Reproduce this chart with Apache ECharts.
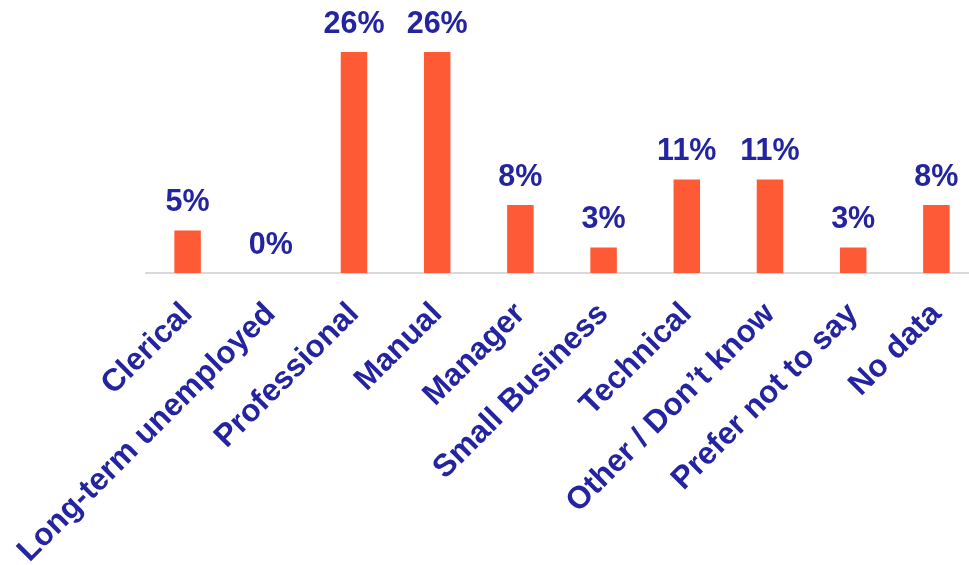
<!DOCTYPE html>
<html>
<head>
<meta charset="utf-8">
<script src="https://cdn.jsdelivr.net/npm/echarts@6/dist/echarts.min.js"></script>
<style>
  html, body { margin: 0; padding: 0; background: #ffffff; }
  #chart { width: 969px; height: 565px; }
</style>
</head>
<body>
<div id="chart"></div>
<script>
// Occupation categories and their share (%)
const categories = [
  'Clerical',
  'Long-term unemployed',
  'Professional',
  'Manual',
  'Manager',
  'Small Business',
  'Technical',
  'Other / Don\u2019t know',
  'Prefer not to say',
  'No data'
];
const shares = [5, 0, 26, 26, 8, 3, 11, 11, 3, 8];

const barColor = '#FF5A36';
const textColor = '#2424A0';
const fontFamily = '"Liberation Sans", Arial, sans-serif';

const chart = echarts.init(document.getElementById('chart'), null, { renderer: 'canvas' });

chart.setOption({
  animation: false,
  grid: {
    left: 146, right: -9, top: 18, bottom: 292,
    containLabel: false,
    outerBoundsMode: 'none'
  },
  xAxis: {
    type: 'category',
    data: categories,
    axisLine: { show: true, lineStyle: { color: '#D9D9D9', width: 2 } },
    axisTick: { show: false },
    axisLabel: {
      interval: 0,
      rotate: 45,
      margin: 36,
      align: 'right',
      verticalAlign: 'middle',
      color: textColor,
      fontFamily: fontFamily,
      fontWeight: 'bold',
      fontSize: 31.5
    }
  },
  yAxis: {
    type: 'value',
    min: 0,
    max: 30,
    show: false,
    splitLine: { show: false }
  },
  series: [{
    type: 'bar',
    data: shares,
    barWidth: 26.5,
    itemStyle: { color: barColor },
    label: {
      show: true,
      position: 'top',
      distance: 12,
      formatter: '{c}%',
      color: textColor,
      fontFamily: fontFamily,
      fontWeight: 'bold',
      fontSize: 30.5
    }
  }]
});
</script>
</body>
</html>
